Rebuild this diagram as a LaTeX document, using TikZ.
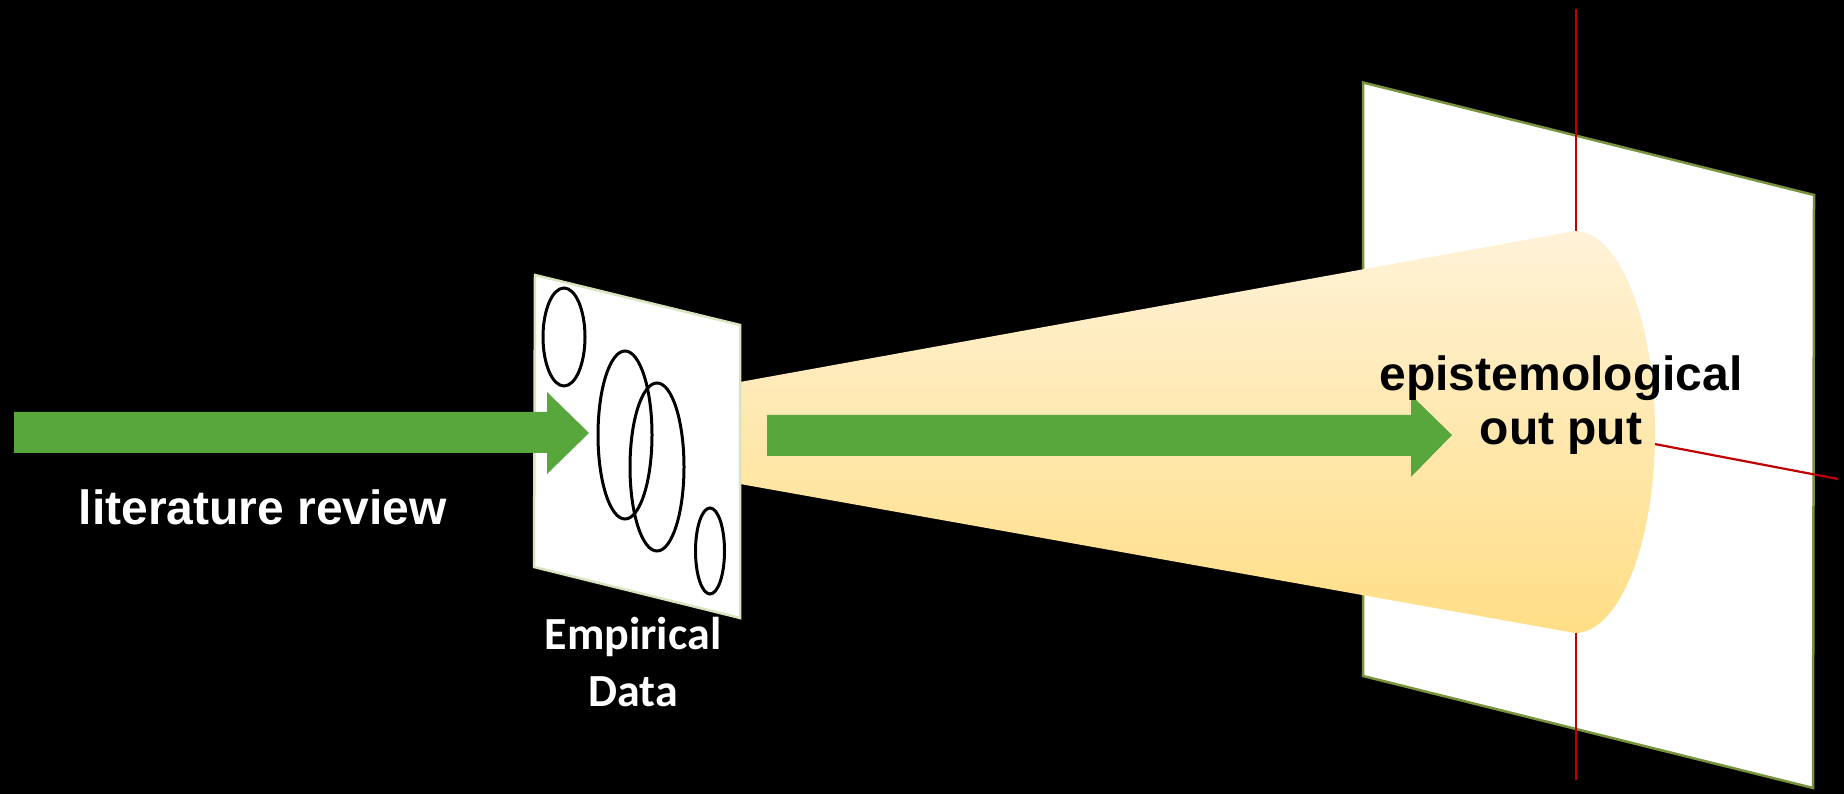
\documentclass[tikz,border=0pt]{standalone}
\usepackage{fontspec}
\setmainfont{Liberation Sans}
\newfontfamily\calfont{Carlito}
\definecolor{arrgreen}{RGB}{88,167,60}
\definecolor{olive}{RGB}{119,147,60}
\definecolor{palegreen}{RGB}{215,228,189}
\definecolor{redline}{RGB}{192,0,0}
\definecolor{conetop}{RGB}{255,242,215}
\definecolor{conebot}{RGB}{255,222,134}
\tikzset{
  blockarrow/.style={fill=arrgreen, draw=none},
  datablob/.style={draw=black, line width=3pt},
  axisline/.style={draw=redline, line width=2.2pt},
  bigtext/.style={font=\bfseries\fontsize{48}{54}\selectfont, anchor=base, inner sep=0pt},
  caltext/.style={font=\calfont\bfseries\fontsize{46}{56}\selectfont, anchor=base, inner sep=0pt, text=white},
}
\begin{document}
\begin{tikzpicture}[x=1pt,y=1pt]
\useasboundingbox (0,0) rectangle (1844,794);
\fill[black] (0,0) rectangle (1844,794);
% big output panel
\draw[fill=white, draw=olive, line width=2.5pt] (1363,711.5) -- (1814,599) -- (1813,6) -- (1363,118) -- cycle;
% red axes
\coordinate (vtop) at (1576,785);
\coordinate (vbot) at (1576,14);
\coordinate (hleft) at (1576,365);
\coordinate (hright) at (1838,315);
\draw[axisline] (vtop) -- (vbot);
\draw[axisline] (hleft) -- (hright);
% cone
\shade[top color=conetop, bottom color=conebot]
  (740,412) -- (1575,563) arc[start angle=90, end angle=-90, x radius=80pt, y radius=201pt] -- (740,310) -- cycle;
% middle arrow
\fill[blockarrow] (767,379) -- (1411,379) -- (1411,399) -- (1452,359) -- (1411,317) -- (1411,338) -- (767,338) -- cycle;
\node[bigtext, text=black] (epi1) at (1561,403) {epistemological};
\node[bigtext, text=black] (epi2) at (1561,349) {out put};
% small data panel
\draw[fill=white, draw=palegreen, line width=2.5pt] (535,519) -- (740,469) -- (740,176) -- (534,227) -- cycle;
\draw[datablob] (564,457) ellipse [x radius=21pt, y radius=49pt];
\draw[datablob] (625,359) ellipse [x radius=27pt, y radius=84pt];
\draw[datablob] (657,327) ellipse [x radius=27pt, y radius=84pt];
\draw[datablob] (710,243) ellipse [x radius=14.5pt, y radius=43pt];
% left arrow
\fill[blockarrow] (14,382) -- (547,382) -- (547,402) -- (589,361) -- (547,320) -- (547,341) -- (14,341) -- cycle;
\node[bigtext, text=white] (lit) at (263,269) {literature review};
\node[caltext] (emp1) at (633,144) {Empirical};
\node[caltext] (emp2) at (633,87) {Data};
\end{tikzpicture}
\end{document}
